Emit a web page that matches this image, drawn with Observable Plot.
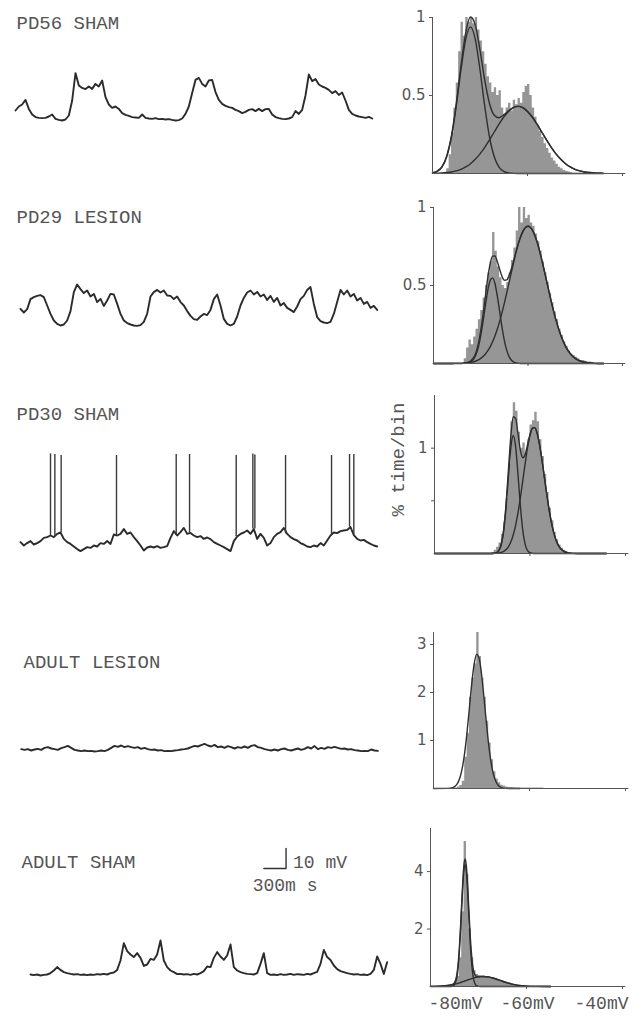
<!DOCTYPE html>
<html><head><meta charset="utf-8">
<script src="https://cdn.jsdelivr.net/npm/d3@7"></script>
<script src="https://cdn.jsdelivr.net/npm/@observablehq/plot@0.6"></script>
<style>
html,body{margin:0;padding:0;background:#fff;}
#fig{position:relative;width:635px;height:1017px;overflow:hidden;background:#fff;}
#fig > svg{position:absolute;}
</style></head><body><div id="fig"></div>
<script>
// ---------- membrane potential traces (mV), one sample every 45 ms ----------
const dt = 45;
const t1 = [-75.0,-73.0,-72.0,-69.7,-74.2,-77.0,-78.3,-78.7,-78.8,-78.7,-78.0,-77.0,-79.2,-79.7,-80.0,-79.5,-77.5,-70.0,-56.3,-62.5,-63.7,-64.3,-63.0,-64.2,-61.7,-63.0,-60.0,-68.3,-72.0,-73.7,-73.0,-74.2,-76.3,-77.2,-77.7,-78.3,-78.5,-78.7,-77.0,-78.7,-79.0,-79.2,-78.8,-79.3,-79.2,-79.5,-79.3,-79.7,-80.0,-79.8,-79.0,-76.7,-73.0,-66.3,-59.7,-58.7,-61.7,-63.0,-60.0,-59.7,-65.8,-69.7,-71.7,-72.7,-73.3,-73.7,-74.7,-75.3,-76.3,-75.7,-74.7,-74.3,-75.3,-74.2,-75.3,-74.3,-74.2,-77.0,-78.3,-78.8,-79.2,-79.3,-79.0,-78.3,-75.3,-76.7,-74.7,-67.5,-57.0,-60.3,-59.3,-62.0,-63.0,-63.7,-64.7,-66.3,-65.3,-67.2,-66.0,-70.0,-74.7,-76.7,-77.5,-78.0,-78.3,-78.7,-78.2,-79.0];
const t2 = [-79.2,-81.0,-79.3,-74.3,-73.3,-72.7,-72.3,-73.3,-77.5,-81.7,-85.0,-86.7,-87.5,-87.0,-85.0,-80.3,-70.8,-67.0,-69.3,-71.3,-70.0,-73.0,-71.7,-75.8,-74.2,-77.7,-75.0,-71.7,-72.0,-76.7,-81.7,-85.0,-86.3,-87.0,-87.5,-87.7,-87.3,-85.7,-81.7,-73.0,-70.8,-69.7,-71.0,-70.0,-72.5,-72.7,-74.3,-73.0,-75.8,-77.5,-80.3,-82.7,-84.3,-84.7,-83.0,-81.7,-82.3,-79.7,-74.3,-72.0,-77.5,-84.2,-86.7,-87.5,-86.7,-83.0,-77.5,-73.7,-71.0,-70.0,-72.0,-70.7,-73.0,-72.0,-74.7,-72.7,-75.7,-73.7,-77.5,-76.3,-78.7,-79.7,-80.8,-78.0,-74.3,-72.7,-69.7,-68.3,-76.7,-83.3,-85.3,-86.0,-86.3,-85.7,-81.7,-75.7,-69.7,-72.0,-70.0,-73.0,-71.7,-75.0,-73.7,-76.7,-75.7,-78.7,-77.7,-79.7];
const t3 = [-80.8,-82.5,-81.3,-80.3,-82.0,-81.3,-80.3,-78.7,-78.3,-77.5,-78.3,-76.7,-76.0,-79.2,-80.8,-81.7,-83.0,-84.3,-85.3,-84.3,-83.3,-83.7,-82.5,-83.0,-81.3,-81.7,-80.3,-81.7,-77.0,-77.5,-76.7,-74.3,-76.7,-76.0,-78.3,-80.3,-82.5,-85.0,-83.5,-83.0,-83.5,-82.8,-83.7,-83.3,-82.8,-78.7,-75.3,-77.5,-75.8,-73.7,-76.7,-76.2,-77.5,-78.3,-77.8,-79.2,-78.5,-79.3,-80.8,-81.7,-82.5,-83.3,-84.3,-85.3,-80.3,-78.0,-76.7,-76.0,-75.0,-76.7,-74.3,-79.2,-76.7,-78.7,-82.5,-81.3,-78.3,-76.7,-75.8,-73.7,-76.7,-78.3,-79.3,-80.0,-81.3,-82.0,-83.0,-83.3,-82.5,-83.0,-81.3,-82.5,-80.0,-77.5,-76.0,-76.3,-75.3,-75.0,-74.7,-73.3,-77.3,-79.2,-80.0,-79.7,-80.8,-81.7,-82.5,-83.0];
const t3SpikeTimes = [405,464,549,1296,2102,2282,2912,3137,3164,3578,4199,4442,4500];
const t3SpikePeaks = [-36.7,-37.0,-37.5,-37.5,-37.0,-37.0,-37.5,-36.7,-37.3,-37.5,-37.5,-37.0,-37.0];
const t4 = [-79.3,-79.7,-79.3,-80.0,-79.5,-79.2,-79.7,-78.7,-78.3,-79.0,-79.3,-79.7,-78.8,-78.3,-77.7,-78.7,-79.7,-80.0,-80.3,-80.0,-80.3,-80.2,-80.5,-80.3,-80.0,-80.3,-79.7,-78.7,-77.7,-78.2,-77.5,-78.3,-77.8,-78.3,-78.7,-78.3,-79.2,-78.7,-79.3,-79.7,-79.5,-80.0,-79.8,-80.3,-80.2,-80.3,-80.0,-79.8,-79.5,-79.3,-79.0,-78.3,-77.7,-78.0,-77.3,-76.7,-77.5,-78.0,-77.2,-78.3,-78.0,-78.7,-77.8,-78.3,-79.0,-78.3,-78.7,-78.0,-78.7,-77.7,-77.3,-78.3,-78.7,-79.3,-79.7,-80.0,-79.5,-80.0,-79.3,-79.0,-79.7,-80.0,-79.5,-79.0,-79.7,-79.2,-78.3,-79.0,-77.8,-79.3,-78.7,-79.2,-78.3,-78.7,-78.2,-78.7,-79.2,-79.0,-79.5,-79.3,-79.8,-80.0,-80.3,-80.2,-80.3,-79.5,-80.0,-80.2];
const t5 = [-97.0,-97.3,-97.0,-97.5,-97.2,-97.0,-96.3,-95.0,-93.3,-94.7,-95.8,-96.3,-96.7,-97.0,-96.8,-97.2,-97.0,-97.3,-97.0,-97.2,-96.8,-97.0,-96.7,-97.0,-96.3,-96.0,-94.7,-90.0,-81.3,-85.3,-87.0,-88.3,-86.3,-88.7,-92.7,-92.0,-89.2,-89.7,-87.0,-80.0,-90.0,-93.3,-95.0,-95.8,-96.8,-96.7,-97.0,-96.8,-97.2,-96.7,-97.0,-96.3,-95.3,-93.0,-93.3,-88.7,-85.8,-88.0,-89.7,-87.5,-82.0,-93.3,-95.0,-95.8,-96.3,-96.7,-96.8,-97.0,-96.3,-91.7,-86.3,-96.3,-97.2,-97.0,-97.3,-96.8,-97.2,-97.0,-96.7,-97.2,-96.8,-97.0,-97.2,-96.7,-97.0,-96.3,-95.7,-91.7,-84.7,-88.3,-89.7,-92.5,-94.3,-95.3,-95.8,-96.3,-96.7,-97.0,-96.8,-97.2,-97.0,-97.3,-96.7,-94.7,-88.0,-91.7,-96.7,-90.8];
const traceLabels = ["PD56 SHAM","PD29 LESION","PD30 SHAM","ADULT LESION","ADULT SHAM"];
// scale bar: 300 ms / 10 mV
const scaleBarMs = 300, scaleBarMv = 10;
const scaleBarLabels = ["10 mV","300m s"];

// ---------- histograms: % time per 0.5 mV bin ----------
const binW = 0.5;
const h1Start = -77.5;
const h1 = [0,0.03,0.12,0.26,0.42,0.58,0.78,0.97,0.88,1.00,0.97,1.00,0.96,1.00,0.92,0.85,0.78,0.70,0.62,0.58,0.52,0.55,0.50,0.53,0.42,0.38,0.42,0.45,0.40,0.47,0.44,0.48,0.45,0.52,0.56,0.57,0.50,0.42,0.36,0.31,0.27,0.23,0.19,0.16,0.13,0.10,0.08,0.06,0.04,0.03,0.02,0.015,0.01,0.005];
const h2Start = -74;
const h2 = [0,0.03,0.10,0.15,0.12,0.17,0.22,0.28,0.34,0.42,0.50,0.58,0.65,0.84,0.72,0.62,0.55,0.50,0.48,0.52,0.58,0.66,0.74,0.85,1.00,0.90,1.00,0.93,0.95,0.90,0.88,0.83,0.78,0.72,0.65,0.58,0.52,0.45,0.39,0.33,0.28,0.22,0.18,0.14,0.11,0.08,0.06,0.05,0.04,0.03,0.02,0.02,0.015,0.01,0.01,0.005];
const h3Start = -68;
const h3 = [0.01,0.03,0.06,0.10,0.18,0.30,0.52,0.85,1.25,1.43,1.35,1.15,1.00,1.05,0.95,1.08,1.22,1.26,1.34,1.25,1.08,0.92,0.75,0.58,0.43,0.31,0.20,0.13,0.08,0.05,0.03,0.015];
const h4Start = -76;
const h4 = [0,0.01,0.03,0.06,0.15,0.65,1.15,1.90,2.30,2.60,3.25,2.75,2.30,1.90,1.40,0.95,0.60,0.35,0.20,0.12,0.07,0.05,0.03,0.02,0.02,0.015,0.01,0.01,0.01,0.01,0.01,0.01,0.01,0.01,0.01,0.01,0.01,0.01];
const h5Start = -76;
const h5 = [0.02,0.05,0.12,0.35,1.00,2.60,5.05,3.90,2.00,1.00,0.55,0.42,0.38,0.35,0.36,0.33,0.34,0.30,0.28,0.25,0.22,0.18,0.16,0.12,0.10,0.08,0.06,0.04,0.03,0.02,0.015,0.01];

// ---------- two-component fits (x in mV) ----------
const fitX1 = [-80,-79,-78,-77,-76,-75,-74,-73,-72,-71,-70,-69,-68,-67,-66,-65,-64,-63,-62,-61,-60,-59,-58,-57,-56,-55,-54,-53,-52,-51,-50,-49,-48,-47,-46,-45,-44];
const fit1A = [.004,.014,.041,.107,.234,.431,.665,.862,.94,.862,.665,.431,.234,.107,.041,.014,.004,.001,0,0,0,0,0,0,0,0,0,0,0,0,0,0,0,0,0,0,0];
const fit1B = [.001,.002,.003,.006,.010,.017,.027,.042,.063,.091,.126,.168,.215,.266,.316,.362,.398,.422,.43,.422,.398,.362,.316,.266,.215,.168,.126,.091,.063,.042,.027,.017,.010,.006,.003,.002,.001];
const fit1S = [.005,.016,.044,.113,.244,.448,.692,.904,1.003,.953,.791,.599,.449,.373,.357,.376,.402,.423,.43,.422,.398,.362,.316,.266,.215,.168,.126,.091,.063,.042,.027,.017,.010,.006,.003,.002,.001];

const fitX2 = [-80,-78,-76,-75,-74,-73.5,-73,-72.5,-72,-71.5,-71,-70.5,-70,-69.5,-69,-68.5,-68,-67.5,-67,-66.5,-66,-65.5,-65,-64.5,-64,-63.5,-63,-62.5,-62,-61.5,-61,-60,-59,-58,-57,-56,-55,-54,-53,-52,-51,-50,-49,-48,-47,-46,-45,-44];
const fit2A = [0,0,0,0,0,.001,.002,.005,.013,.028,.057,.106,.179,.272,.375,.470,.533,.549,.513,.434,.334,.232,.147,.084,.044,.021,.009,.003,.001,0,0,0,0,0,0,0,0,0,0,0,0,0,0,0,0,0,0,0];
const fit2B = [0,0,0,.001,.001,.002,.003,.005,.008,.011,.016,.023,.033,.045,.061,.082,.107,.139,.176,.219,.270,.326,.387,.452,.520,.588,.654,.717,.772,.817,.852,.88,.852,.772,.654,.520,.387,.270,.176,.107,.061,.033,.016,.008,.003,.001,0,0];
const fit2S = [0,0,0,.001,.001,.003,.005,.010,.021,.039,.073,.129,.212,.317,.436,.552,.640,.688,.689,.653,.604,.558,.534,.536,.564,.609,.663,.720,.773,.817,.852,.88,.852,.772,.654,.520,.387,.270,.176,.107,.061,.033,.016,.008,.003,.001,0,0];

const fitX3 = [-80,-70,-69,-68,-67.5,-67,-66.5,-66,-65.5,-65,-64.5,-64,-63.5,-63,-62.5,-62,-61.5,-61,-60.5,-60,-59.5,-59,-58.5,-58,-57.5,-57,-56.5,-56,-55.5,-55,-54.5,-54,-53.5,-53,-52.5,-52,-51,-50,-48,-44];
const fit3A = [0,0,0,0,.002,.007,.027,.085,.214,.442,.741,1.010,1.12,1.010,.741,.442,.214,.085,.027,.007,.002,0,0,0,0,0,0,0,0,0,0,0,0,0,0,0,0,0,0,0];
const fit3B = [0,0,0,0,.001,.002,.005,.010,.020,.037,.066,.111,.178,.270,.390,.534,.695,.858,1.008,1.123,1.189,1.195,1.141,1.034,.890,.728,.565,.417,.292,.194,.122,.073,.042,.023,.012,.006,.001,0,0,0];
const fit3S = [0,0,0,0,.003,.009,.032,.095,.234,.479,.807,1.121,1.298,1.280,1.131,.976,.909,.943,1.035,1.130,1.191,1.195,1.141,1.034,.890,.728,.565,.417,.292,.194,.122,.073,.042,.023,.012,.006,.001,0,0,0];

const fitX4 = [-80,-77,-76,-75.5,-75,-74.5,-74,-73.5,-73,-72.5,-72,-71.5,-71,-70.5,-70,-69.5,-69,-68.5,-68,-67.5,-67,-66.5,-66,-65.5,-65,-64,-62];
const fit4 = [0,.002,.017,.045,.105,.223,.428,.748,1.184,1.699,2.211,2.610,2.794,2.714,2.391,1.909,1.383,.909,.541,.292,.144,.064,.026,.009,.003,0,0];

const fitX5 = [-80,-79,-78,-77,-76,-75.5,-75,-74.75,-74.5,-74.25,-74,-73.75,-73.5,-73.25,-73,-72.75,-72.5,-72.25,-72,-71.75,-71.5,-71.25,-71,-70.75,-70.5,-70,-69.5,-69,-68,-67,-66,-65,-64,-63,-62,-61,-60,-58,-55];
const fit5A = [0,0,0,0,0,.006,.058,.145,.326,.656,1.182,1.906,2.750,3.552,4.103,4.242,3.925,3.250,2.407,1.595,.947,.502,.239,.102,.038,.004,0,0,0,0,0,0,0,0,0,0,0,0,0];
const fit5B = [.003,.006,.013,.026,.047,.062,.081,.091,.102,.114,.126,.139,.153,.167,.182,.197,.212,.227,.242,.257,.271,.285,.297,.309,.319,.336,.346,.35,.336,.297,.242,.182,.126,.081,.047,.026,.013,.003,0];
const fit5S = [.003,.006,.013,.026,.047,.068,.139,.236,.428,.770,1.308,2.045,2.903,3.719,4.285,4.439,4.137,3.477,2.649,1.852,1.218,.787,.536,.411,.357,.340,.346,.35,.336,.297,.242,.182,.126,.081,.047,.026,.013,.003,0];

const xTickLabels = ["-80mV","-60mV","-40mV"];
const yAxisLabel = "% time/bin";

// ---------- layout ----------
const fig = document.getElementById("fig");
const MONO = "Liberation Mono, DejaVu Sans Mono, monospace";
const pxPerSample = 10/3;
function place(svg, left, top) {
  svg.style.left = left + "px"; svg.style.top = top + "px";
  fig.appendChild(svg);
}

function tracePlot(values, {x0, top, height, oy, label, lx, ly, extra = []}) {
  const data = values.map((v, i) => ({t: i * dt, v}));
  const n = values.length;
  const svg = Plot.plot({
    width: 400, height, margin: 0,
    style: {background: "transparent", overflow: "visible"},
    x: {domain: [0, (n - 1) * dt], range: [x0, x0 + (n - 1) * pxPerSample], axis: null},
    y: {domain: [-100, -30], range: [160 + oy, 20 + oy], axis: null},
    marks: [
      Plot.line(data, {x: "t", y: "v", stroke: "#2b2b2b", strokeWidth: 1.9, strokeLinejoin: "round"}),
      ...extra,
      Plot.text([label], {frameAnchor: "top-left", text: d => d, dx: lx, dy: ly, lineAnchor: "bottom",
        textAnchor: "start", fontFamily: MONO, fontSize: 19, fill: "#555"})
    ]
  });
  place(svg, 0, top);
}

const spikes = t3SpikeTimes.map((t, k) => ({t, base: t3[Math.round(t / dt)], peak: t3SpikePeaks[k]}));

tracePlot(t1, {x0: 15, top: 0, height: 190, oy: 0, label: traceLabels[0], lx: 16, ly: 28});
tracePlot(t2, {x0: 20, top: 190, height: 190, oy: 0, label: traceLabels[1], lx: 16, ly: 32});
tracePlot(t3, {x0: 20, top: 380, height: 190, oy: 40, label: traceLabels[2], lx: 16, ly: 39,
  extra: [Plot.ruleX(spikes, {x: "t", y1: "base", y2: "peak", stroke: "#3a3a3a", strokeWidth: 1.4})]});
tracePlot(t4, {x0: 20.7, top: 630, height: 150, oy: 0, label: traceLabels[3], lx: 23, ly: 37});

const sbT = 3450, sbV = -44;
const sbPath = [{t: sbT - scaleBarMs, v: sbV}, {t: sbT, v: sbV}, {t: sbT, v: sbV + scaleBarMv}];
tracePlot(t5, {x0: 30, top: 820, height: 197, oy: 0, label: traceLabels[4], lx: 21, ly: 47,
  extra: [
    Plot.line(sbPath, {x: "t", y: "v", stroke: "#333", strokeWidth: 1.4}),
    Plot.text([{t: sbT, v: sbV + 3, s: scaleBarLabels[0]}], {x: "t", y: "v", text: "s", dx: 7, textAnchor: "start",
      lineAnchor: "middle", fontFamily: MONO, fontSize: 18, fill: "#555"}),
    Plot.text([{t: sbT, v: sbV, s: scaleBarLabels[1]}], {x: "t", y: "v", text: "s", dx: -1, dy: 17, textAnchor: "middle",
      lineAnchor: "middle", fontFamily: MONO, fontSize: 18, fill: "#555"})
  ]});

function histPlot({top, height, mL, mR, mT, mB, yMax, yTicks, yFmt, hStart, hVals, fitX, fits, extra = []}) {
  // step outline of the histogram: one point per bin start, plus the closing edge
  const steps = hVals.map((h, i) => ({x: hStart + i * binW, h}));
  steps.push({x: hStart + hVals.length * binW, h: 0});
  const svg = Plot.plot({
    width: 255, height, marginLeft: mL, marginRight: mR, marginTop: mT, marginBottom: mB,
    style: {background: "transparent", overflow: "visible", fontFamily: "DejaVu Sans", fontSize: "15px", color: "#555"},
    x: {domain: [-80, -40], ticks: [-60, -40], tickSize: 3, tickFormat: () => "", label: null},
    y: {domain: [0, yMax], ticks: yTicks, tickSize: 3, tickPadding: 4, tickFormat: yFmt, label: null},
    marks: [
      Plot.areaY(steps, {x: "x", y1: 0, y2: "h", curve: "step-after", fill: "#969696"}),
      ...fits.map(f => Plot.line(fitX.map((x, i) => ({x, y: f[i]})),
        {x: "x", y: "y", stroke: "#2f2f2f", strokeWidth: 1.4, curve: "monotone-x"})),
      Plot.ruleX([-80], {y1: 0, y2: yMax, stroke: "#555"}),
      Plot.ruleY([0], {x1: -80, x2: -39.3, stroke: "#555"}),
      ...extra
    ]
  });
  place(svg, 380, top);
}

histPlot({top: 0, height: 190, mL: 52, mR: 13, mT: 17, mB: 17, yMax: 1, yTicks: [0.5, 1], yFmt: d => String(d),
  hStart: h1Start, hVals: h1, fitX: fitX1, fits: [fit1A, fit1B, fit1S]});
histPlot({top: 190, height: 190, mL: 53, mR: 13, mT: 17, mB: 17, yMax: 1, yTicks: [0.5, 1], yFmt: d => String(d),
  hStart: h2Start, hVals: h2, fitX: fitX2, fits: [fit2A, fit2B, fit2S]});
histPlot({top: 380, height: 190, mL: 54, mR: 10, mT: 15, mB: 17, yMax: 1.5, yTicks: [0.5, 1], yFmt: d => d === 1 ? "1" : "",
  hStart: h3Start, hVals: h3, fitX: fitX3, fits: [fit3A, fit3B, fit3S],
  extra: [Plot.text([yAxisLabel], {frameAnchor: "left", text: d => d, rotate: -90, dx: -37, dy: -15,
    textAnchor: "middle", lineAnchor: "middle", fontFamily: MONO, fontSize: 19, fill: "#555"})]});
histPlot({top: 615, height: 190, mL: 53, mR: 10, mT: 17, mB: 17, yMax: 3.25, yTicks: [1, 2, 3], yFmt: d => String(d),
  hStart: h4Start, hVals: h4, fitX: fitX4, fits: [fit4]});
histPlot({top: 811, height: 206, mL: 50, mR: 13, mT: 17, mB: 31, yMax: 5.5, yTicks: [2, 4], yFmt: d => String(d),
  hStart: h5Start, hVals: h5, fitX: fitX5, fits: [fit5A, fit5B, fit5S],
  extra: [
    Plot.text([{x: -80, s: xTickLabels[0]}], {x: "x", y: () => 0, text: "s", dx: -2, dy: 17, textAnchor: "start", lineAnchor: "middle", fontFamily: MONO, fontSize: 18, fill: "#555"}),
    Plot.text([{x: -60, s: xTickLabels[1]}], {x: "x", y: () => 0, text: "s", dx: 1, dy: 17, textAnchor: "middle", lineAnchor: "middle", fontFamily: MONO, fontSize: 18, fill: "#555"}),
    Plot.text([{x: -40, s: xTickLabels[2]}], {x: "x", y: () => 0, text: "s", dx: 6, dy: 17, textAnchor: "end", lineAnchor: "middle", fontFamily: MONO, fontSize: 18, fill: "#555"})
  ]});
</script>
</body></html>
